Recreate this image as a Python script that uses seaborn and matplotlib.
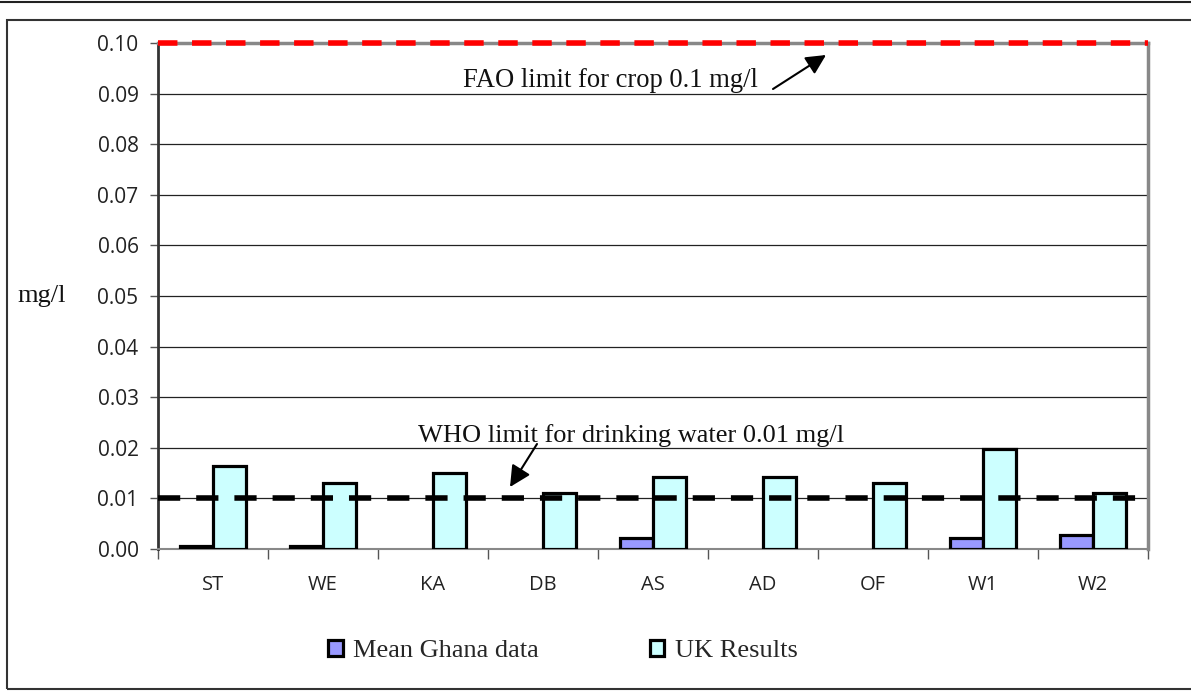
import numpy as np
import pandas as pd
import matplotlib
matplotlib.use("Agg")
import matplotlib.pyplot as plt
from matplotlib.patches import Patch, Rectangle
from matplotlib.lines import Line2D
import seaborn as sns

# Arsenic concentrations per sampling site (mg/l)
sites = ["ST", "WE", "KA", "DB", "AS", "AD", "OF", "W1", "W2"]
ghana_mean = [0.0005, 0.0005, 0.0, 0.0, 0.0021, 0.0, 0.0, 0.0021, 0.0027]
uk_results = [0.0164, 0.0130, 0.0151, 0.0110, 0.0143, 0.0143, 0.0130, 0.0197, 0.0110]
series_names = ["Mean Ghana data", "UK Results"]
series_colors = ["#9999FF", "#CCFFFF"]
yticks = [0.00, 0.01, 0.02, 0.03, 0.04, 0.05, 0.06, 0.07, 0.08, 0.09, 0.10]
who_limit = 0.01
fao_limit = 0.1

df = pd.DataFrame({
    "site": sites * 2,
    "value": ghana_mean + uk_results,
    "series": [series_names[0]] * len(sites) + [series_names[1]] * len(sites),
})

sns.set_theme(style="white")
plt.rcParams["font.family"] = ["Open Sans", "DejaVu Sans"]

W, H = 1191, 697
fig = plt.figure(figsize=(W / 100, H / 100), dpi=100)
ax = fig.add_axes([158 / W, 1 - 549 / H, (1148 - 158) / W, (549 - 43) / H])

sns.barplot(data=df, x="site", y="value", hue="series", order=sites,
            hue_order=series_names, palette=series_colors, width=0.6,
            edgecolor="black", linewidth=2.3, saturation=1, legend=False,
            errorbar=None, ax=ax, zorder=3)

# hide bars without a measurement
for p in ax.patches:
    if p.get_height() == 0:
        p.set_visible(False)

ax.set_xlim(-0.5, len(sites) - 0.5)
ax.set_ylim(0, 0.1)
ax.set_yticks(yticks)
ax.set_yticklabels([f"{v:.2f}" for v in yticks])
ax.set_xlabel("")
ax.set_ylabel("")

ax.yaxis.grid(True, color="#222222", linewidth=0.9, zorder=0)
ax.xaxis.grid(False)
ax.set_axisbelow(True)

ax.tick_params(axis="y", which="major", left=True, length=6, width=1,
               color="#555555", pad=8, labelsize=15, labelcolor="#222222")
ax.tick_params(axis="x", which="major", bottom=False, length=0, pad=19,
               labelsize=14.5, labelcolor="#222222")
ax.set_xticks(np.arange(-0.5, len(sites), 1.0), minor=True)
ax.tick_params(axis="x", which="minor", bottom=True, length=7, width=1,
               color="#555555")

for side, col, lw in [("left", "#333333", 2.0), ("top", "#888888", 2.5),
                      ("right", "#888888", 2.5), ("bottom", "#888888", 1.5)]:
    ax.spines[side].set_visible(True)
    ax.spines[side].set_color(col)
    ax.spines[side].set_linewidth(lw)

# Guideline limits
lw_w = 4.0
ax.axhline(who_limit, color="black", linewidth=lw_w,
           linestyle=(0, (16.0 / lw_w, 11.5 / lw_w)), zorder=5, clip_on=False)
lw_f = 4.0
ax.axhline(fao_limit, color="#FF0000", linewidth=lw_f,
           linestyle=(0, (14.0 / lw_f, 10.5 / lw_f)), zorder=5, clip_on=False)

serif = ["Liberation Serif", "DejaVu Serif"]
ax.annotate("", xy=(826 / W, 1 - 55 / H), xytext=(773 / W, 1 - 89 / H),
            xycoords="figure fraction", textcoords="figure fraction",
            arrowprops=dict(arrowstyle="-|>", color="black", lw=1.5,
                            mutation_scale=30, shrinkA=0, shrinkB=0))
fig.text(463 / W, 1 - 87 / H, "FAO limit for crop 0.1 mg/l", family=serif,
         fontsize=19.2, ha="left", va="baseline", color="#111111")

ax.annotate("", xy=(510 / W, 1 - 487 / H), xytext=(537 / W, 1 - 444 / H),
            xycoords="figure fraction", textcoords="figure fraction",
            arrowprops=dict(arrowstyle="-|>", color="black", lw=1.5,
                            mutation_scale=32, shrinkA=0, shrinkB=0))
fig.text(418 / W, 1 - 442 / H, "WHO limit for drinking water 0.01 mg/l",
         family=serif, fontsize=19, ha="left", va="baseline", color="#111111")

fig.text(17 / W, 1 - 296 / H, "mg/l", family=serif, fontsize=19,
         ha="left", va="center", color="#111111")

# Legend below the plot
handles = [Patch(facecolor=c, edgecolor="black", linewidth=2.3)
           for c in series_colors]
fig.legend(handles, series_names, loc="center", ncol=2,
           bbox_to_anchor=(563 / W, 1 - 651 / H), frameon=False,
           prop={"family": serif, "size": 19}, handlelength=0.55,
           handleheight=0.55, handletextpad=0.4, columnspacing=4.2)

# Outer frame
fig.add_artist(Line2D([0, 1], [1 - 2 / H, 1 - 2 / H], transform=fig.transFigure,
                      color="#222222", linewidth=1.5))
fig.add_artist(Rectangle((7 / W, 1 - 689 / H), 1.2, (689 - 20) / H,
                         transform=fig.transFigure, fill=False,
                         edgecolor="#333333", linewidth=1.5, clip_on=True))

fig.savefig("out.png", dpi=100, facecolor="white")
